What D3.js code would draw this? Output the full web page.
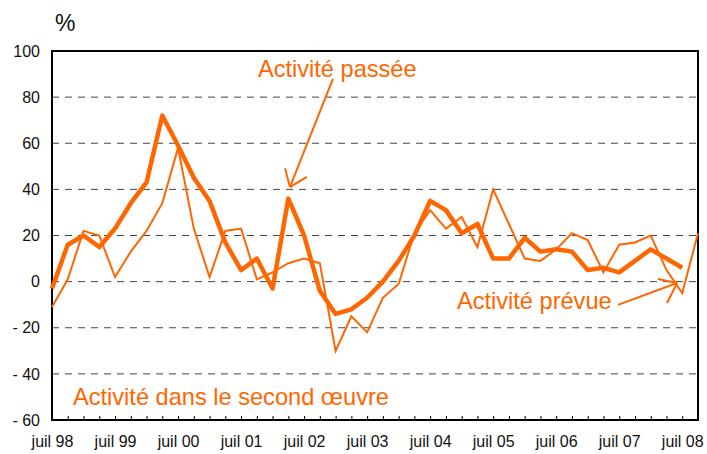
<!DOCTYPE html>
<html>
<head>
<meta charset="utf-8">
<script src="https://cdn.jsdelivr.net/npm/d3@7"></script>
<style>
  body { margin: 0; background: #fff; }
  svg { font-family: "Liberation Sans", Arial, sans-serif; }
  .grid line { stroke: #444; stroke-dasharray: 7,6; }
  .y-axis text, .x-axis text { fill: #111; font-size: 16px; }
  .note { fill: #ff6600; font-size: 23.6px; }
</style>
</head>
<body>
<svg id="chart" width="707" height="454"></svg>
<script>
// quarters, juil 98 .. oct 08
const quarters = [
  "1998T3","1998T4","1999T1","1999T2","1999T3","1999T4","2000T1","2000T2",
  "2000T3","2000T4","2001T1","2001T2","2001T3","2001T4","2002T1","2002T2",
  "2002T3","2002T4","2003T1","2003T2","2003T3","2003T4","2004T1","2004T2",
  "2004T3","2004T4","2005T1","2005T2","2005T3","2005T4","2006T1","2006T2",
  "2006T3","2006T4","2007T1","2007T2","2007T3","2007T4","2008T1","2008T2",
  "2008T3","2008T4"
];
const tickQuarters = ["1998T3","1999T3","2000T3","2001T3","2002T3","2003T3",
  "2004T3","2005T3","2006T3","2007T3","2008T3"];
const tickLabels = ["juil 98","juil 99","juil 00","juil 01","juil 02","juil 03",
  "juil 04","juil 05","juil 06","juil 07","juil 08"];

// Activité passée (thick), stops at juil 08
const passee = [-3,16,20,15,23,34,43,72,59,45,35,17,5,10,-3,36,20,-4,-14,-12,
  -7,0,9,20,35,31,21,25,10,10,19,13,14,13,5,6,4,9,14,10,6];
// Activité prévue (thin)
const prevue = [-11,1,22,20,2,13,22,34,58,23,2,22,23,1,4,8,10,8,-30,-15,
  -22,-7,-1,21,31,23,28,15,40,25,10,9,14,21,18,4,16,17,20,5,-5,21];

const yTicks = [-60,-40,-20,0,20,40,60,80,100];
const gridValues = [-40,-20,0,20,40,60,80];

const margin = {top: 51, right: 9, bottom: 34, left: 52};
const orange = "#ff6600";

const svg = d3.select("#chart");
const width = +svg.attr("width");
const height = +svg.attr("height");
const innerWidth = width - margin.left - margin.right;
const innerHeight = height - margin.top - margin.bottom;

const xScale = d3.scalePoint().domain(quarters).range([0, innerWidth]).padding(0);
const yScale = d3.scaleLinear().domain([-60, 100]).range([innerHeight, 0]);
const xi = i => xScale(quarters[0]) + i * xScale.step();

const g = svg.append("g")
  .attr("transform", `translate(${margin.left},${margin.top})`);

// dashed grid
g.append("g").attr("class", "grid")
  .selectAll("line").data(gridValues)
  .enter().append("line")
    .attr("x1", 0).attr("x2", innerWidth)
    .attr("y1", d => yScale(d)).attr("y2", d => yScale(d));

// small inner tick marks on every quarter
const tickAxis = d3.axisBottom(xScale).tickSize(-4).tickFormat("");
g.append("g")
  .attr("transform", `translate(0,${innerHeight})`)
  .call(tickAxis)
  .call(s => s.select(".domain").remove())
  .selectAll("line").attr("stroke", "#000");

// x labels
const xAxis = d3.axisBottom(xScale)
  .tickValues(tickQuarters)
  .tickSize(0)
  .tickPadding(16)
  .tickFormat(d => tickLabels[tickQuarters.indexOf(d)]);
g.append("g").attr("class", "x-axis")
  .attr("transform", `translate(0,${innerHeight})`)
  .call(xAxis)
  .call(s => s.select(".domain").remove());

// y labels
const yAxis = d3.axisLeft(yScale)
  .tickValues(yTicks)
  .tickSize(0)
  .tickPadding(12)
  .tickFormat(d => d < 0 ? "- " + Math.abs(d) : d);
g.append("g").attr("class", "y-axis")
  .call(yAxis)
  .call(s => s.select(".domain").remove());

// plot frame
g.append("rect")
  .attr("x", 0).attr("y", 0)
  .attr("width", innerWidth).attr("height", innerHeight)
  .attr("fill", "none").attr("stroke", "#000").attr("stroke-width", 2);

const line = d3.line()
  .x((d, i) => xScale(quarters[i]))
  .y(d => yScale(d));

g.append("path").datum(prevue)
  .attr("fill", "none").attr("stroke", orange)
  .attr("stroke-width", 2).attr("stroke-linejoin", "miter")
  .attr("d", line);

g.append("path").datum(passee)
  .attr("fill", "none").attr("stroke", orange)
  .attr("stroke-width", 4.5).attr("stroke-linejoin", "round")
  .attr("d", line);

// annotations, positions in (quarter index, value)
const notes = [
  {text: "Activité passée", i: 13.07, v: 88.7},
  {text: "Activité prévue", i: 25.7, v: -11.9},
  {text: "Activité dans le second œuvre", i: 1.33, v: -53.5}
];
g.selectAll(".note").data(notes)
  .enter().append("text")
    .attr("class", "note")
    .attr("x", d => xi(d.i))
    .attr("y", d => yScale(d.v))
    .text(d => d.text);

const arrows = [
  {from: [17.83, 87.9], tip: [15.1, 41], arms: [[14.79, 49.2], [16.18, 45.4]]},
  {from: [35.92, -10.1], tip: [39.67, -0.6], arms: [[38.46, 1.1], [39.03, -9.3]]}
];
const arrowG = g.append("g")
  .attr("stroke", orange).attr("stroke-width", 2).attr("fill", "none");
arrows.forEach(a => {
  arrowG.append("line")
    .attr("x1", xi(a.from[0])).attr("y1", yScale(a.from[1]))
    .attr("x2", xi(a.tip[0])).attr("y2", yScale(a.tip[1]));
  a.arms.forEach(p => {
    arrowG.append("line")
      .attr("x1", xi(p[0])).attr("y1", yScale(p[1]))
      .attr("x2", xi(a.tip[0])).attr("y2", yScale(a.tip[1]));
  });
});

svg.append("text")
  .attr("x", 55).attr("y", 31)
  .attr("font-size", 23).attr("fill", "#111")
  .text("%");
</script>
</body>
</html>
